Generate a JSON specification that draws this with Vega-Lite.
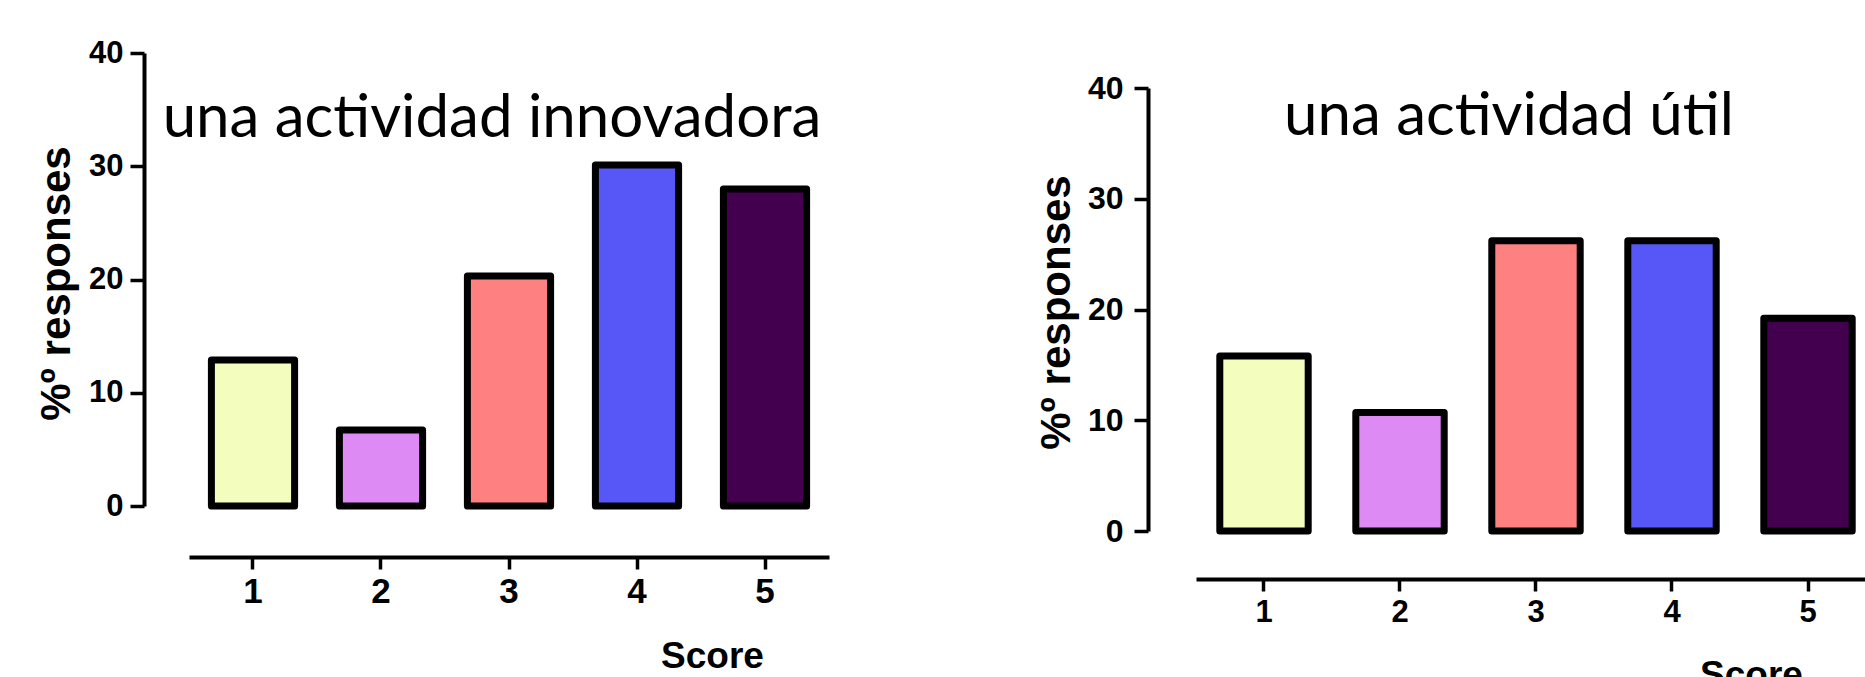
{
  "$schema": "https://vega.github.io/schema/vega-lite/v6.json",
  "padding": {"left": 35, "top": 37, "right": 0, "bottom": 0},
  "background": "white",
  "spacing": 206,
  "config": {
    "view": {"stroke": null},
    "axis": {
      "grid": false,
      "domainColor": "black",
      "tickColor": "black",
      "labelColor": "black",
      "titleColor": "black",
      "labelFont": "Liberation Sans",
      "labelFontWeight": "bold",
      "titleFont": "Liberation Sans",
      "titleFontWeight": "bold",
      "domainWidth": 4,
      "tickWidth": 3.5
    }
  },
  "hconcat": [
    {
      "width": 640,
      "height": 453,
      "layer": [
        {
          "data": {"values": [
            {"score": "1", "pct": 12.9},
            {"score": "2", "pct": 6.7},
            {"score": "3", "pct": 20.3},
            {"score": "4", "pct": 30.1},
            {"score": "5", "pct": 28.0}
          ]},
          "mark": {"type": "bar", "stroke": "black", "strokeWidth": 7, "strokeJoin": "round"},
          "encoding": {
            "x": {
              "field": "score", "type": "ordinal",
              "scale": {"paddingInner": 0.35, "paddingOuter": 0.175},
              "axis": {
                "offset": 51, "tickSize": 12, "labelFontSize": 35, "labelAngle": 0, "labelPadding": 5,
                "title": "Score", "titleFontSize": 37, "titleX": 523, "titleY": 110,
                "titleBaseline": "alphabetic", "titleAlign": "center"
              }
            },
            "y": {
              "field": "pct", "type": "quantitative",
              "scale": {"domain": [0, 40], "nice": false},
              "axis": {
                "offset": 45, "values": [0, 10, 20, 30, 40], "tickSize": 14, "labelFontSize": 31, "labelPadding": 7,
                "title": "%º responses", "titleFontSize": 42, "titleX": -75, "titleY": 230,
                "titleBaseline": "alphabetic", "titleAlign": "center", "titleAngle": -90
              }
            },
            "fill": {
              "field": "score", "type": "nominal",
              "scale": {"domain": ["1", "2", "3", "4", "5"], "range": ["#F3FDBE", "#DD8AF5", "#FF8080", "#5757F8", "#43004E"]},
              "legend": null
            }
          }
        },
        {
          "data": {"values": [{"label": "una actividad innovadora"}]},
          "mark": {"type": "text", "font": "Lato", "fontSize": 60, "baseline": "alphabetic", "align": "center", "dx": -17, "color": "black"},
          "encoding": {
            "x": {"datum": "3"},
            "y": {"datum": 32.6},
            "text": {"field": "label"}
          }
        }
      ]
    },
    {
      "width": 680,
      "height": 478,
      "layer": [
        {
          "data": {"values": [
            {"score": "1", "pct": 15.8},
            {"score": "2", "pct": 10.7},
            {"score": "3", "pct": 26.2},
            {"score": "4", "pct": 26.2},
            {"score": "5", "pct": 19.2}
          ]},
          "mark": {"type": "bar", "stroke": "black", "strokeWidth": 7, "strokeJoin": "round"},
          "encoding": {
            "x": {
              "field": "score", "type": "ordinal",
              "scale": {"paddingInner": 0.35, "paddingOuter": 0.175},
              "axis": {
                "offset": 48, "tickSize": 12, "labelFontSize": 31, "labelAngle": 0, "labelPadding": 6,
                "title": "Score", "titleFontSize": 37, "titleX": 555, "titleY": 107,
                "titleBaseline": "alphabetic", "titleAlign": "center"
              }
            },
            "y": {
              "field": "pct", "type": "quantitative",
              "scale": {"domain": [0, 40], "nice": false, "range": [478, 35]},
              "axis": {
                "offset": 48, "values": [0, 10, 20, 30, 40], "tickSize": 14, "labelFontSize": 32, "labelPadding": 11,
                "title": "%º responses", "titleFontSize": 42, "titleX": -79, "titleY": 259,
                "titleBaseline": "alphabetic", "titleAlign": "center", "titleAngle": -90
              }
            },
            "fill": {
              "field": "score", "type": "nominal",
              "scale": {"domain": ["1", "2", "3", "4", "5"], "range": ["#F3FDBE", "#DD8AF5", "#FF8080", "#5757F8", "#43004E"]},
              "legend": null
            }
          }
        },
        {
          "data": {"values": [{"label": "una actividad útil"}]},
          "mark": {"type": "text", "font": "Lato", "fontSize": 60, "baseline": "alphabetic", "align": "center", "dx": -27, "color": "black"},
          "encoding": {
            "x": {"datum": "3"},
            "y": {"datum": 35.75},
            "text": {"field": "label"}
          }
        }
      ]
    }
  ]
}
